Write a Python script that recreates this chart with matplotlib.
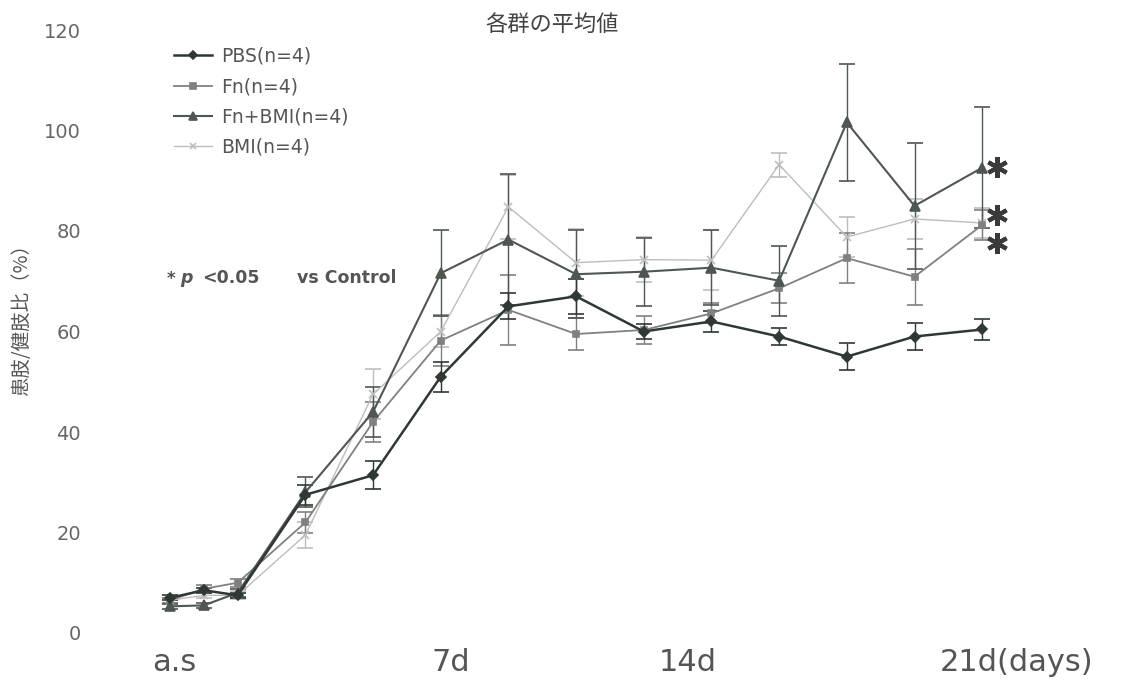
import numpy as np
import matplotlib.pyplot as plt

plt.rcParams['font.family'] = ['DejaVu Sans', 'Noto Sans CJK JP']

# measurement days (a.s = day 0)
days = [0, 0.875, 1.75, 3.5, 5.25, 7, 8.75, 10.5, 12.25, 14, 15.75, 17.5, 19.25, 21]

pbs = [7.0, 8.5, 7.5, 27.5, 31.4, 51.0, 65.0, 67.0, 60.0, 62.0, 59.0, 55.0, 59.0, 60.4]
pbs_err = [0.5, 0.5, 0.5, 2.0, 2.8, 3.0, 2.6, 3.5, 1.5, 2.0, 1.7, 2.7, 2.6, 2.0]

fn = [6.5, 8.8, 10.0, 22.0, 42.0, 58.2, 64.3, 59.5, 60.3, 63.6, 68.6, 74.6, 70.9, 81.2]
fn_err = [0.5, 0.7, 0.8, 2.0, 4.0, 5.0, 7.0, 3.2, 2.8, 2.0, 3.0, 5.0, 5.6, 3.0]

fnbmi = [5.3, 5.5, 8.0, 28.0, 44.0, 71.6, 78.3, 71.4, 71.9, 72.7, 70.1, 101.6, 85.0, 92.6]
fnbmi_err = [0.5, 0.5, 0.8, 3.0, 5.0, 8.6, 13.0, 8.8, 6.8, 7.5, 7.0, 11.7, 12.6, 12.0]

bmi = [6.5, 7.5, 7.5, 19.5, 47.5, 60.0, 84.8, 73.7, 74.3, 74.2, 93.2, 78.8, 82.4, 81.6]
bmi_err = [0.5, 0.5, 0.8, 2.5, 5.0, 3.0, 6.3, 6.6, 4.5, 6.0, 2.4, 4.0, 4.0, 3.0]

xtick_pos = [0.12, 7.27, 13.39, 21.9]
xtick_labels = ['a.s', '7d', '14d', '21d(days)']

W, H = 1139, 682
fig = plt.figure(figsize=(W / 100, H / 100), dpi=100)
ax = fig.add_axes([170 / W, 49 / H, 847 / W, 603 / H])
ax.set_xlim(0, 21)
ax.set_ylim(0, 120)
for s in ax.spines.values():
    s.set_visible(False)

# drawn bottom to top
series = [
    ('BMI(n=4)', bmi, bmi_err, 'x', '#bdbdbd', 1.0, 6),
    ('Fn(n=4)', fn, fn_err, 's', '#808080', 1.3, 5),
    ('Fn+BMI(n=4)', fnbmi, fnbmi_err, '^', '#4f5751', 1.5, 7),
    ('PBS(n=4)', pbs, pbs_err, 'D', '#2f3831', 1.8, 5),
]
handles = {}
for label, y, e, m, c, lw, ms in series:
    cont = ax.errorbar(days, y, yerr=e, marker=m, color=c, lw=lw, ms=ms,
                       mew=1.2, capsize=6, elinewidth=1.0, capthick=1.0)
    cont[0].set_clip_on(False)
    for a in cont[1]:
        a.set_clip_on(False)
    for a in cont[2]:
        a.set_clip_on(False)
    handles[label] = cont[0]

order = ['PBS(n=4)', 'Fn(n=4)', 'Fn+BMI(n=4)', 'BMI(n=4)']
ax.legend([handles[k] for k in order], order, loc='upper left',
          bbox_to_anchor=(174 / W, 1 - 47 / H), bbox_transform=fig.transFigure,
          frameon=False, fontsize=13.5, handlelength=2.0, handletextpad=0.5,
          labelspacing=0.6, borderpad=0, borderaxespad=0, labelcolor='#555555',
          markerscale=0.75)

ax.set_yticks(range(0, 121, 20))
ax.tick_params(axis='y', length=0, pad=64, labelsize=14, labelcolor='#666666')
ax.set_xticks(xtick_pos)
ax.set_xticklabels(xtick_labels)
ax.tick_params(axis='x', length=0, pad=11, labelsize=22, labelcolor='#555555')

cjk = ['Noto Sans CJK JP', 'DejaVu Sans']
fig.text(552 / W, 1 - 24 / H, '各群の平均値', ha='center', va='center',
         fontsize=16, family=cjk, color='#444444')
fig.text(22 / W, 1 - 315 / H, '患肢/健肢比（%）', ha='center', va='center',
         rotation=90, fontsize=14, family=cjk, color='#555555')

# significance note
fig.text(167 / W, 1 - 279 / H, '*', ha='left', va='center', fontsize=12,
         fontweight='bold', color='#555555')
fig.text(180 / W, 1 - 278 / H, 'p', ha='left', va='center', fontsize=12.5,
         fontweight='bold', style='italic', color='#555555')
fig.text(202 / W, 1 - 278 / H, '<0.05', ha='left', va='center', fontsize=12.5,
         fontweight='bold', color='#555555')
fig.text(297 / W, 1 - 278 / H, 'vs Control', ha='left', va='center',
         fontsize=12.5, fontweight='bold', color='#555555')

# asterisks next to the day-21 points
star_y = [fnbmi[-1] + 0.2, bmi[-1] + 1.6, fn[-1] - 3.6]
ax.plot([21.37] * 3, star_y, ls='none', marker=(6, 2, 0), ms=15, mew=3,
        color='#3a3a3a', clip_on=False)

fig.savefig('out.png', dpi=100)
